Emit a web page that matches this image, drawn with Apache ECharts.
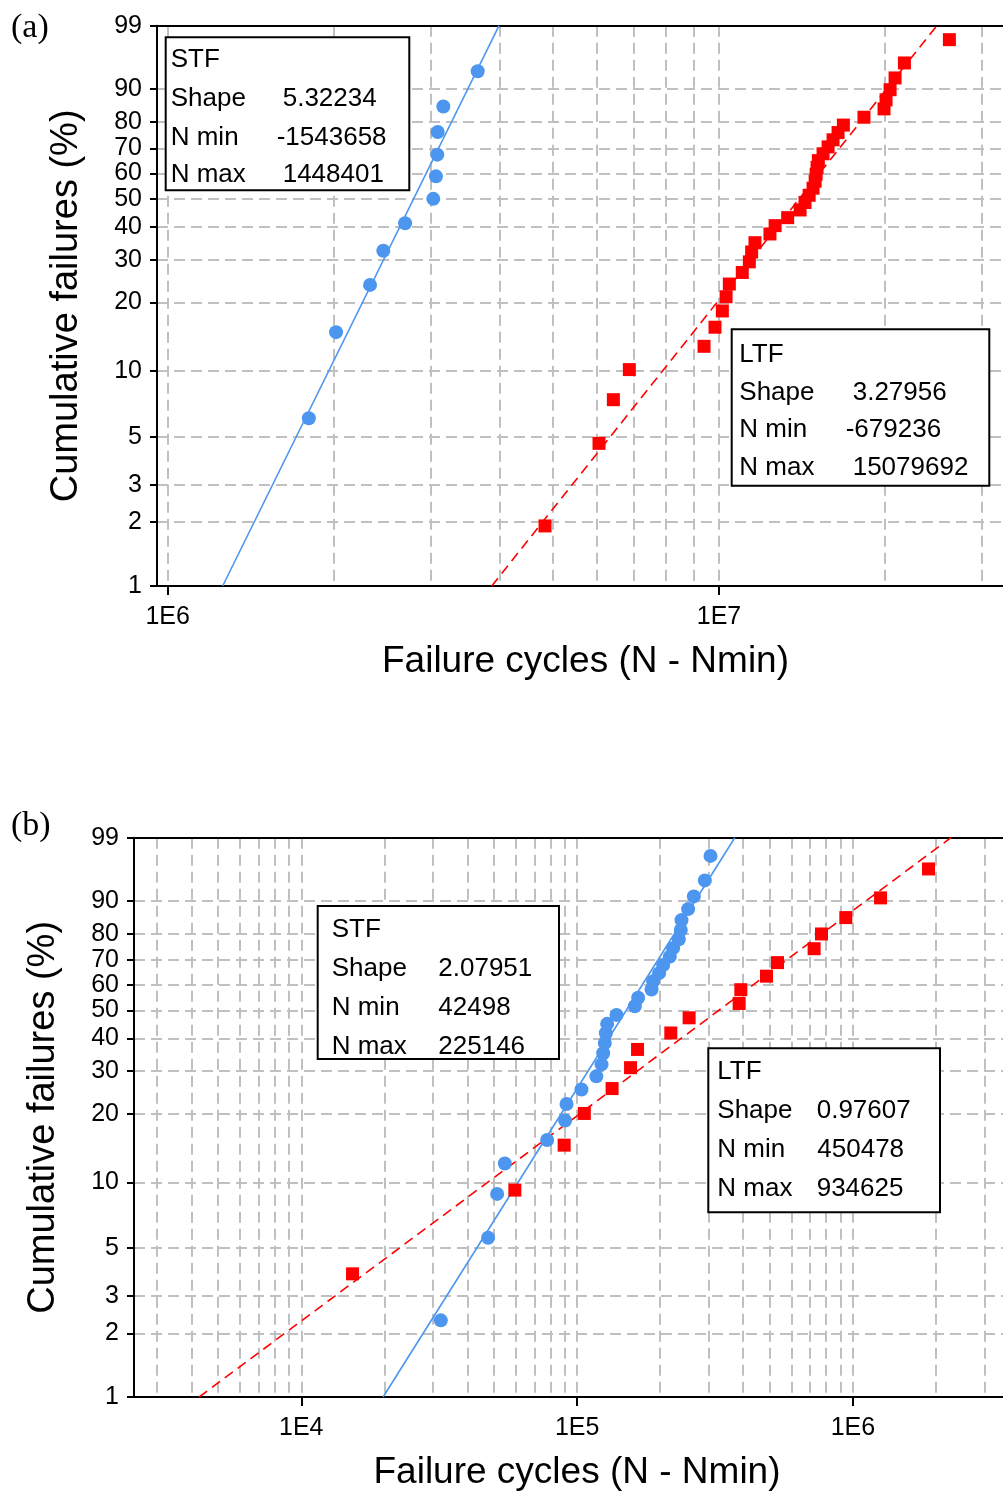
<!DOCTYPE html>
<html>
<head>
<meta charset="utf-8">
<script src="https://cdn.jsdelivr.net/npm/echarts@6.0.0/dist/echarts.min.js"></script>
<style>
  html, body { margin: 0; padding: 0; background: #fff; }
  #chart { width: 1003px; height: 1493px; }
</style>
</head>
<body>
<div id="chart"></div>
<script>
// ---- Panel (a): failure cycles (N - Nmin) and cumulative failures (%) ----
const STF_A_CYCLES = [1.803e6, 2.020e6, 2.328e6, 2.461e6, 2.695e6, 3.032e6, 3.066e6, 3.083e6, 3.088e6, 3.162e6, 3.650e6];
const STF_A_PCT = [6.1, 14.9, 23.7, 32.5, 41.2, 50.0, 58.8, 67.5, 76.3, 85.1, 93.9];
const LTF_A_CYCLES = [4.835e6, 6.058e6, 6.432e6, 6.876e6, 9.393e6, 9.833e6, 1.014e7, 1.030e7, 1.044e7, 1.102e7,
  1.135e7, 1.146e7, 1.162e7, 1.237e7, 1.264e7, 1.332e7, 1.403e7, 1.432e7, 1.457e7, 1.481e7,
  1.494e7, 1.500e7, 1.506e7, 1.514e7, 1.544e7, 1.577e7, 1.610e7, 1.644e7, 1.681e7, 1.832e7,
  1.992e7, 2.009e7, 2.043e7, 2.086e7, 2.169e7, 2.617e7];
const LTF_A_PCT = [1.92, 4.67, 7.42, 10.16, 12.91, 15.66, 18.41, 21.15, 23.90, 26.65,
  29.40, 32.14, 34.89, 37.64, 40.38, 43.13, 45.88, 48.63, 51.37, 54.12,
  56.87, 59.62, 62.36, 65.11, 67.86, 70.60, 73.35, 76.10, 78.85, 81.59,
  84.34, 87.09, 89.84, 92.58, 95.33, 98.08];
const FIT_A_STF_CYCLES = [1.258e6, 3.99e6];
const FIT_A_LTF_CYCLES = [3.870e6, 2.483e7];
const FIT_PCT = [1, 99];

// ---- Panel (b) ----
const STF_B_CYCLES = [3.205e4, 4.757e4, 5.129e4, 5.469e4, 7.785e4, 9.048e4, 9.154e4, 1.037e5, 1.174e5, 1.226e5,
  1.243e5, 1.260e5, 1.271e5, 1.285e5, 1.389e5, 1.619e5, 1.664e5, 1.861e5, 1.886e5, 1.983e5,
  2.050e5, 2.168e5, 2.228e5, 2.337e5, 2.376e5, 2.390e5, 2.526e5, 2.649e5, 2.904e5, 3.045e5];
const STF_B_PCT = [2.30, 5.59, 8.88, 12.17, 15.46, 18.75, 22.04, 25.33, 28.62, 31.91,
  35.20, 38.49, 41.78, 45.07, 48.36, 51.64, 54.93, 58.22, 61.51, 64.80,
  68.09, 71.38, 74.67, 77.96, 81.25, 84.54, 87.83, 91.12, 94.41, 97.70];
const LTF_B_CYCLES = [1.534e4, 5.946e4, 8.973e4, 1.062e5, 1.339e5, 1.562e5, 1.656e5, 2.186e5, 2.547e5,
  3.867e5, 3.922e5, 4.860e5, 5.327e5, 7.231e5, 7.691e5, 9.421e5, 1.259e6, 1.879e6];
const LTF_B_PCT = [3.80, 9.24, 14.67, 20.11, 25.54, 30.98, 36.41, 41.85, 47.28,
  52.72, 58.15, 63.59, 69.02, 74.46, 79.89, 85.33, 90.76, 96.20];
const FIT_B_STF_CYCLES = [1.980e4, 3.729e5];
const FIT_B_LTF_CYCLES = [4.263e3, 2.265e6];

// ---- Axis ticks and grid lines ----
const PCT_TICKS = [1, 2, 3, 5, 10, 20, 30, 40, 50, 60, 70, 80, 90, 99];
const X_LABELS_A = [1e6, 1e7];
const X_GRID_A = [1e6, 2e6, 3e6, 4e6, 5e6, 6e6, 7e6, 8e6, 9e6, 1e7, 2e7, 3e7];
const X_LABELS_B = [1e4, 1e5, 1e6];
const X_GRID_B = [3e3, 4e3, 5e3, 6e3, 7e3, 8e3, 9e3, 1e4, 2e4, 3e4, 4e4, 5e4, 6e4, 7e4, 8e4, 9e4,
  1e5, 2e5, 3e5, 4e5, 5e5, 6e5, 7e5, 8e5, 9e5, 1e6, 2e6, 3e6];

// ---- Fit parameter boxes ----
const INFO_A_STF = [['STF', ''], ['Shape', '5.32234'], ['N min', '-1543658'], ['N max', '1448401']];
const INFO_A_LTF = [['LTF', ''], ['Shape', '3.27956'], ['N min', '-679236'], ['N max', '15079692']];
const INFO_B_STF = [['STF', ''], ['Shape', '2.07951'], ['N min', '42498'], ['N max', '225146']];
const INFO_B_LTF = [['LTF', ''], ['Shape', '0.97607'], ['N min', '450478'], ['N max', '934625']];

// Weibull probability scale: ln(-ln(1 - F))
const wb = p => Math.log(-Math.log(1 - p / 100));
const unwb = v => 100 * (1 - Math.exp(-Math.exp(v)));

const BLUE = '#4d96f0';
const RED = '#ff0000';
const FONT = 'Liberation Sans, Arial, sans-serif';
const GRID_LINE = { show: true, lineStyle: { color: '#c0c0c0', width: 2, type: [11, 6] } };
const BLACK_LINE = { show: true, onZero: false, lineStyle: { color: '#000', width: 2 } };

const pairs = (xs, ps) => xs.map((x, i) => [x, wb(ps[i])]);

function mainX(gridIndex, min, max, labels, nameGap, namePad) {
  return {
    type: 'log', logBase: 10, gridIndex, min, max, position: 'bottom',
    axisLine: BLACK_LINE,
    axisTick: { show: true, customValues: labels, length: 9, inside: false, lineStyle: { color: '#000', width: 2 } },
    axisLabel: {
      customValues: labels, margin: 19, fontSize: 25, color: '#000', fontFamily: FONT,
      formatter: v => '1E' + Math.round(Math.log10(v))
    },
    splitLine: { show: false },
    name: 'Failure cycles (N - Nmin)', nameLocation: 'middle', nameGap, nameMoveOverlap: false,
    nameTextStyle: { fontSize: 37, color: '#000', fontFamily: FONT, padding: [0, 0, 0, namePad] }
  };
}
function gridX(gridIndex, min, max, lines) {
  return {
    type: 'log', logBase: 10, gridIndex, min, max, position: 'top',
    axisLine: BLACK_LINE,
    axisTick: { show: false, customValues: lines },
    axisLabel: { show: false },
    splitLine: GRID_LINE
  };
}
function probY(gridIndex) {
  const ticks = PCT_TICKS.map(wb);
  return {
    type: 'value', gridIndex,
    min: wb(1) - 1e-9, max: wb(99) + 1e-9,
    axisLine: BLACK_LINE,
    axisTick: { show: true, customValues: ticks, length: 7, lineStyle: { color: '#000', width: 2 } },
    axisLabel: {
      customValues: ticks, margin: 15, fontSize: 25, color: '#000', fontFamily: FONT,
      formatter: v => String(Math.round(unwb(v)))
    },
    splitLine: GRID_LINE,
    name: 'Cumulative failures (%)', nameLocation: 'middle', nameGap: 71, nameRotate: 90, nameMoveOverlap: false,
    nameTextStyle: { fontSize: 38, color: '#000', fontFamily: FONT }
  };
}

function fitLine(xi, yi, xs, color, dashed) {
  return {
    type: 'line', xAxisIndex: xi, yAxisIndex: yi, data: pairs(xs, FIT_PCT),
    showSymbol: false, symbol: 'none', z: 2, silent: true,
    lineStyle: { color, width: 1.6, type: dashed ? [10, 6] : 'solid' }
  };
}
function points(xi, yi, xs, ps, color, symbol, size) {
  return {
    type: 'scatter', xAxisIndex: xi, yAxisIndex: yi, data: pairs(xs, ps),
    symbol, symbolSize: size, z: 3, itemStyle: { color, opacity: 1 }
  };
}

function infoBox(rect, labelX, valueXs, rowYs, rows) {
  const els = [{
    type: 'rect', z: 100,
    shape: { x: rect[0], y: rect[1], width: rect[2], height: rect[3] },
    style: { fill: '#fff', stroke: '#000', lineWidth: 2 }
  }];
  rows.forEach((r, i) => {
    els.push({ type: 'text', z: 101, x: labelX, y: rowYs[i],
      style: { text: r[0], fontSize: 26, fontFamily: FONT, fill: '#000', align: 'left', verticalAlign: 'middle' } });
    if (r[1]) {
      els.push({ type: 'text', z: 101, x: valueXs[i], y: rowYs[i],
        style: { text: r[1], fontSize: 26, fontFamily: FONT, fill: '#000', align: 'left', verticalAlign: 'middle' } });
    }
  });
  return els;
}

const chart = echarts.init(document.getElementById('chart'), null, { renderer: 'canvas' });
chart.setOption({
  animation: false,
  backgroundColor: '#fff',
  textStyle: { fontFamily: FONT },
  grid: [
    { left: 157, top: 25.7, right: 0, height: 560.3, containLabel: false, outerBoundsMode: 'none' },
    { left: 134, top: 837.7, right: 0, height: 559.3, containLabel: false, outerBoundsMode: 'none' }
  ],
  xAxis: [
    mainX(0, 9.563e5, 3.274e7, X_LABELS_A, 57, 11),
    gridX(0, 9.563e5, 3.274e7, X_GRID_A),
    mainX(1, 2475, 3.499e6, X_LABELS_B, 57, 17),
    gridX(1, 2475, 3.499e6, X_GRID_B)
  ],
  yAxis: [probY(0), probY(1)],
  series: [
    fitLine(0, 0, FIT_A_STF_CYCLES, BLUE, false),
    fitLine(0, 0, FIT_A_LTF_CYCLES, RED, true),
    points(0, 0, STF_A_CYCLES, STF_A_PCT, BLUE, 'circle', 14),
    points(0, 0, LTF_A_CYCLES, LTF_A_PCT, RED, 'rect', 13),
    fitLine(2, 1, FIT_B_STF_CYCLES, BLUE, false),
    fitLine(2, 1, FIT_B_LTF_CYCLES, RED, true),
    points(2, 1, STF_B_CYCLES, STF_B_PCT, BLUE, 'circle', 14),
    points(2, 1, LTF_B_CYCLES, LTF_B_PCT, RED, 'rect', 13)
  ],
  graphic: [
    { type: 'text', x: 11, y: 28, z: 101,
      style: { text: '(a)', fontSize: 34, fontFamily: 'Liberation Serif, Times New Roman, serif', fill: '#000', verticalAlign: 'middle' } },
    { type: 'text', x: 11, y: 826, z: 101,
      style: { text: '(b)', fontSize: 34, fontFamily: 'Liberation Serif, Times New Roman, serif', fill: '#000', verticalAlign: 'middle' } },
    ...infoBox([165.7, 37.3, 243.6, 153], 170.7, [0, 282.7, 276.7, 282.7], [60.3, 98.7, 138, 174.5], INFO_A_STF),
    ...infoBox([731.7, 329.3, 257.6, 156.4], 739.3, [0, 852.7, 845.7, 852.7], [354.5, 392.8, 429.5, 467.8], INFO_A_LTF),
    ...infoBox([317.7, 906, 241.3, 153], 331.7, [0, 438.3, 438.3, 438.3], [929.5, 969.3, 1007.8, 1047.2], INFO_B_STF),
    ...infoBox([708.3, 1048.3, 231.7, 164], 717.3, [0, 816.7, 817.3, 816.7], [1071.5, 1111, 1150.3, 1188.7], INFO_B_LTF)
  ]
});
</script>
</body>
</html>
